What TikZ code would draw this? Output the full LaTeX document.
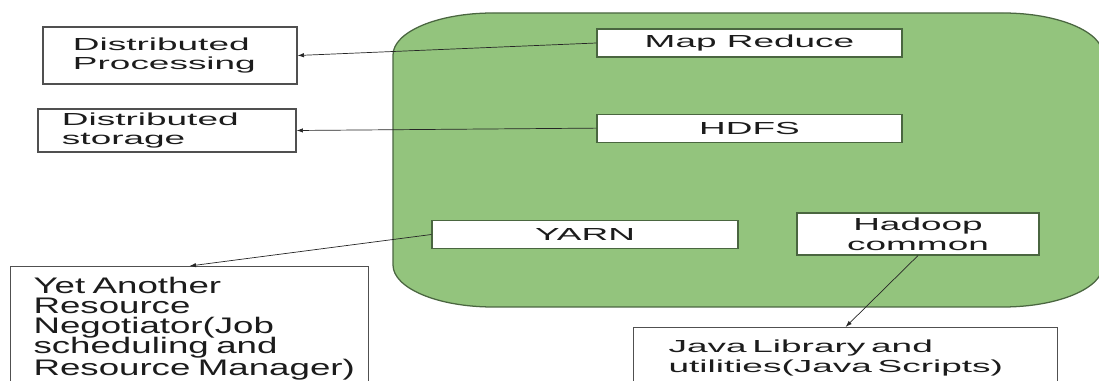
\documentclass[tikz,border=0pt]{standalone}
\usepackage{fontspec}
\setmainfont{Liberation Sans}[FakeStretch=2.12]
\newfontfamily\descfont{Liberation Sans}[FakeStretch=1.63]
\usetikzlibrary{arrows.meta, positioning}
\definecolor{hadoopgreen}{HTML}{93C47D}
\definecolor{hadoopedge}{HTML}{4A6640}
\definecolor{boxedge}{HTML}{505050}
\definecolor{inkgray}{HTML}{1C1C1C}
\newcommand{\tightlines}{\lineskiplimit=-20pt\relax}

\begin{document}
\begin{tikzpicture}[x=0.25mm, y=-0.25mm, node distance=14mm and 14mm,
  every node/.style={font=\fontsize{12.4}{14.2}\selectfont, text=inkgray},
  block/.style={rectangle, draw=boxedge, line width=0.8pt, fill=white, inner sep=2pt},
  note/.style={block, align=left},
  part/.style={block, draw=hadoopedge, minimum width=76.25mm, minimum height=7mm},
  arrow/.style={-{Latex[length=1.6mm, width=1.1mm]}, line width=0.5pt, draw=black!85}]

\useasboundingbox (0,0) rectangle (1099,381);

% green Hadoop frame, elliptic corners
\draw[fill=hadoopgreen, draw=hadoopedge, line width=0.9pt]
  (393,55) .. controls (393,31.8) and (437.8,13) .. (493,13)
  -- (1003,13) .. controls (1058.2,13) and (1103,31.8) .. (1103,55)
  -- (1103,265) .. controls (1103,288.2) and (1058.2,307) .. (1003,307)
  -- (493,307) .. controls (437.8,307) and (393,288.2) .. (393,265) -- cycle;

\node[part] (mapred) at (749.5,43) {Map Reduce};
\node[part, below=14mm of mapred] (hdfs) {HDFS};
\node[part, minimum width=76.5mm] (yarn) at (585,234.5) {YARN};
\node[part, minimum width=60.5mm, minimum height=10.5mm, align=center] (common) at (918,234) {Hadoop\\common};

\node[note, text width=48.5mm, inner xsep=7.5mm, minimum height=14.25mm] (dproc) at (170,55.5) {Distributed\\Processing};
\node[note, text width=52.5mm, inner xsep=6mm, minimum height=10.75mm] (dstor) at (167,130.5) {Distributed\\storage};
\node[note, anchor=north west, text width=78mm, inner xsep=5.75mm, inner ysep=2.7mm, text depth=30mm,
  font=\descfont\fontsize{16}{14.2}\selectfont] (yarndesc) at (10,266)
  {\tightlines\mbox{Yet Another}\\Resource\\\mbox{Negotiator(Job}\\\mbox{scheduling and}\\\mbox{Resource Manager)}};
\node[note, anchor=north west, text width=88.5mm, inner xsep=8.75mm, inner ysep=3.1mm, text depth=30mm] (java) at (633,327)
  {\tightlines\mbox{Java Library and}\\\mbox{utilities(Java Scripts)}};

\draw[arrow] (mapred.west) -- (dproc.east);
\draw[arrow] (hdfs.west) -- (dstor.east);
\draw[arrow] (yarn.west) -- (yarndesc.north);
\draw[arrow] (common.south) -- (java.north);

\end{tikzpicture}
\end{document}
